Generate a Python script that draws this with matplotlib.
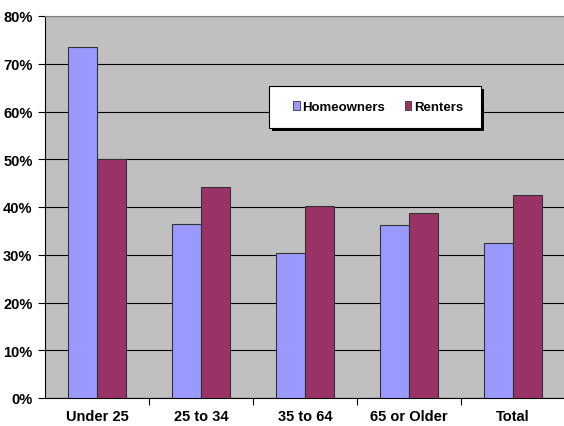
import numpy as np
import matplotlib.pyplot as plt
from matplotlib.patches import Rectangle

plt.rcParams['font.family'] = ['Liberation Sans', 'DejaVu Sans']

groups = ['Under 25', '25 to 34', '35 to 64', '65 or Older', 'Total']
homeowners = [73.5, 36.4, 30.4, 36.2, 32.5]
renters = [50.0, 44.2, 40.2, 38.7, 42.5]
yticks = [0, 10, 20, 30, 40, 50, 60, 70, 80]

fig = plt.figure(figsize=(5.64, 4.27), dpi=100)
ax = fig.add_axes([45 / 564, 28 / 427, 520 / 564, 382 / 427])
ax.set_facecolor('#C0C0C0')

x = np.arange(len(groups)) + 0.5
w = 0.28
ax.bar(x - w / 2, homeowners, w, color='#9999FF', edgecolor='#333333',
       linewidth=0.8, label='Homeowners', zorder=3)
ax.bar(x + w / 2, renters, w, color='#993366', edgecolor='#333333',
       linewidth=0.8, label='Renters', zorder=3)

ax.set_xlim(0, len(groups))
ax.set_ylim(0, 80)
ax.set_yticks(yticks)
ax.set_yticklabels([f'{v}%' for v in yticks], fontsize=10.5, fontweight='bold')
ax.yaxis.grid(True, color='black', linewidth=0.8, zorder=1)

# category labels at the centres, tick marks at the boundaries
ax.set_xticks(np.arange(1, len(groups)))
ax.set_xticklabels([])
ax.set_xticks(x, minor=True)
ax.set_xticklabels(groups, minor=True, fontsize=10.5, fontweight='bold')
ax.tick_params(axis='x', which='minor', length=0, pad=8)
ax.tick_params(axis='x', which='major', length=5, color='black')
ax.tick_params(axis='y', length=5, color='black', pad=4)

for side in ['top', 'right']:
    ax.spines[side].set_color('#808080')
for side in ['left', 'bottom']:
    ax.spines[side].set_color('black')

# legend box with a hard black shadow
lx0, ly0, lx1, ly1 = 269, 427 - 129, 481, 427 - 87
shadow = Rectangle((lx0 + 3, ly0 - 3), lx1 - lx0, ly1 - ly0, transform=None,
                   facecolor='black', edgecolor='none', zorder=5)
box = Rectangle((lx0, ly0), lx1 - lx0, ly1 - ly0, transform=None,
                facecolor='white', edgecolor='black', linewidth=0.8, zorder=6)
fig.patches.extend([shadow, box])
leg = fig.legend(loc='center left', bbox_to_anchor=(293 / 564, (ly0 + ly1) / 2 / 427),
                 ncol=2, frameon=False, handlelength=0.5, handleheight=0.65,
                 handletextpad=0.2, columnspacing=1.5, borderpad=0,
                 borderaxespad=0,
                 prop={'weight': 'bold', 'size': 9.5})
for h in leg.legend_handles:
    h.set_edgecolor('#333333')
    h.set_linewidth(0.6)
leg.set_zorder(7)

fig.savefig('out.png', dpi=100)
